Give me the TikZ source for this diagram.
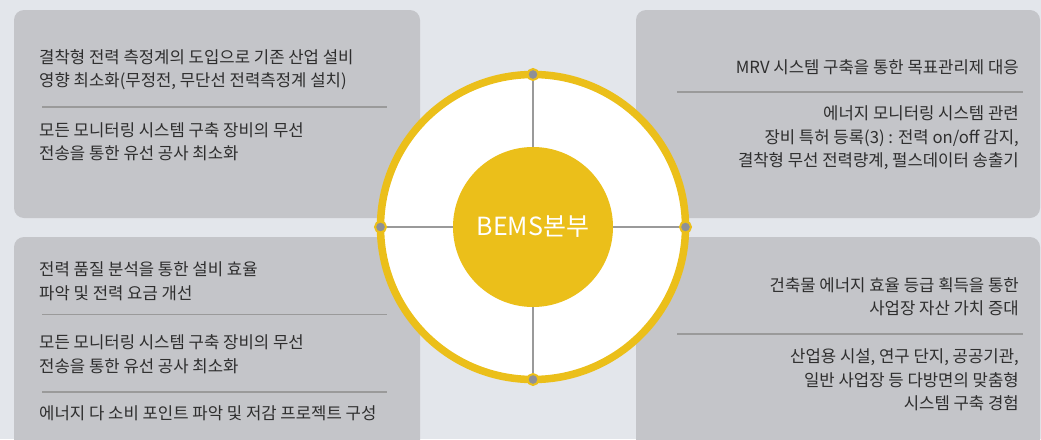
\documentclass[tikz,border=0pt]{standalone}
\usepackage{fontspec}
\setmainfont{Noto Sans CJK KR}
\definecolor{bg}{HTML}{E3E6EB}
\definecolor{boxc}{HTML}{C4C5C9}
\definecolor{ylw}{HTML}{EBBF1A}
\definecolor{txt}{HTML}{2E2E2E}
\definecolor{divc}{HTML}{9A9A9A}
\definecolor{dotc}{HTML}{8E9098}
\begin{document}
\begin{tikzpicture}[x=1pt,y=-1pt,
  panel/.style={fill=boxc, rounded corners=10pt, inner sep=0pt, outer sep=0pt, anchor=north west},
  ltxt/.style={font=\fontsize{16.7}{23.5}\selectfont, text=txt, align=left, inner sep=0pt, anchor=west},
  rtxt/.style={font=\fontsize{16.7}{23.5}\selectfont, text=txt, align=right, inner sep=0pt, anchor=east},
  divider/.style={draw=divc, line width=1.6pt},
  spoke/.style={draw=divc, line width=1.5pt},
  dotmark/.style={circle, fill=dotc, draw=ylw, line width=2pt, minimum size=11pt, inner sep=0pt}]
\useasboundingbox (0,0) rectangle (1041,439);
\clip (0,0) rectangle (1041,439);
\fill[bg] (0,0) rectangle (1041,439);
% panels
\node[panel, minimum width=406pt, minimum height=208pt] (ptl) at (14,10) {};
\node[panel, minimum width=404pt, minimum height=208pt] (ptr) at (636,10) {};
\node[panel, minimum width=406pt, minimum height=215pt] (pbl) at (14,237) {};
\node[panel, minimum width=404pt, minimum height=215pt] (pbr) at (636,237) {};
% top-left texts
\node[ltxt] (tl1) at (39,69.75) {결착형 전력 측정계의 도입으로 기존 산업 설비\\영향 최소화(무정전, 무단선 전력측정계 설치)};
\coordinate (dtla) at (42,107); \coordinate (dtlb) at (387,107);
\draw[divider] (dtla) -- (dtlb);
\node[ltxt] (tl2) at (39,141.5) {모든 모니터링 시스템 구축 장비의 무선\\전송을 통한 유선 공사 최소화};
% top-right texts
\node[rtxt] (tr1) at (1019,67.5) {MRV 시스템 구축을 통한 목표관리제 대응};
\coordinate (dtra) at (677,91.7); \coordinate (dtrb) at (1023,91.7);
\draw[divider] (dtra) -- (dtrb);
\node[rtxt] (tr2) at (1019,138) {에너지 모니터링 시스템 관련\\장비 특허 등록(3) : 전력 on/off 감지,\\결착형 무선 전력량계, 펄스데이터 송출기};
% bottom-left texts
\node[ltxt] (bl1) at (39,281.25) {전력 품질 분석을 통한 설비 효율\\파악 및 전력 요금 개선};
\coordinate (dbla) at (42,314.3); \coordinate (dblb) at (387,314.3);
\draw[divider] (dbla) -- (dblb);
\node[ltxt] (bl2) at (39,354.25) {모든 모니터링 시스템 구축 장비의 무선\\전송을 통한 유선 공사 최소화};
\coordinate (dblc) at (42,391.7); \coordinate (dbld) at (387,391.7);
\draw[divider] (dblc) -- (dbld);
\node[ltxt] (bl3) at (39,413) {에너지 다 소비 포인트 파악 및 저감 프로젝트 구성};
% bottom-right texts
\node[rtxt] (br1) at (1019,296.75) {건축물 에너지 효율 등급 획득을 통한\\사업장 자산 가치 증대};
\coordinate (dbra) at (677,334); \coordinate (dbrb) at (1023,334);
\draw[divider] (dbra) -- (dbrb);
\node[rtxt] (br2) at (1019,380) {산업용 시설, 연구 단지, 공공기관,\\일반 사업장 등 다방면의 맞춤형\\시스템 구축 경험};
% central circle
\node[circle, draw=ylw, fill=white, line width=7.5pt, minimum size=305pt, inner sep=0pt, outer sep=0pt] (ring) at (533,227) {};
\node[circle, fill=ylw, minimum size=160pt, inner sep=0pt, outer sep=0pt, text=white, font=\fontsize{25}{25}\selectfont] (hub) at (533,227) {BEMS본부};
\draw[spoke] (ring.north) -- (hub.north);
\draw[spoke] (ring.south) -- (hub.south);
\draw[spoke] (ring.west) -- (hub.west);
\draw[spoke] (ring.east) -- (hub.east);
\node[dotmark] (dn) at (ring.north) {};
\node[dotmark] (ds) at (ring.south) {};
\node[dotmark] (dw) at (ring.west) {};
\node[dotmark] (de) at (ring.east) {};
\end{tikzpicture}
\end{document}
